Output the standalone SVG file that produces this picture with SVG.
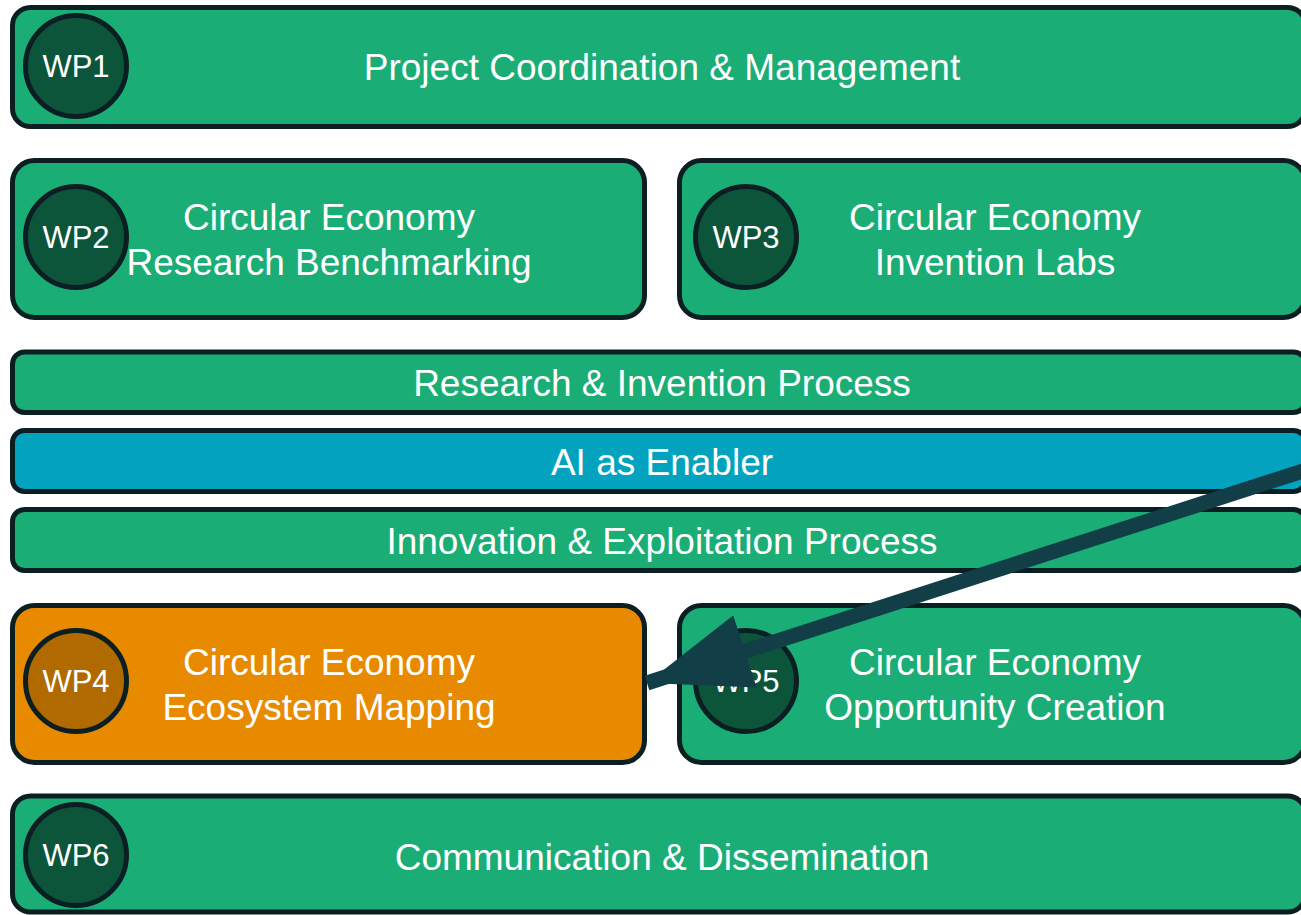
<svg xmlns="http://www.w3.org/2000/svg" width="1301" height="915" viewBox="0 0 1301 915">
<style>
.box{fill:#1aad76;stroke:#0b1f22;stroke-width:5}
.orange{fill:#e88a00}
.blue{fill:#03a3c0}
.wp{fill:#0c553a;stroke:#0b1f22;stroke-width:5}
.wp4{fill:#b06a00}
.t{font-family:"Liberation Sans",Arial,sans-serif;font-size:37px;fill:#fff;text-anchor:middle}
.l{font-family:"Liberation Sans",Arial,sans-serif;font-size:31px;fill:#fff;text-anchor:middle}
.conn{stroke:#123f47;stroke-width:15;fill:none}
</style>
<defs>
<marker id="ah" markerUnits="userSpaceOnUse" markerWidth="110" markerHeight="80" viewBox="0 -40 110 80" refX="103" refY="0" orient="auto">
<path d="M0,-38 L103,0 L0,38 z" fill="#123f47"/>
</marker>
</defs>
<rect width="1301" height="915" fill="#fff"/>
<g id="wp1">
<rect class="box" x="12.5" y="7.5" width="1293" height="119" rx="18"/>
<circle class="wp" cx="76" cy="66" r="50.5"/>
<text class="l" x="76" y="77">WP1</text>
<text class="t" x="662" y="80">Project Coordination &amp; Management</text>
</g>
<g id="wp2">
<rect class="box" x="12.5" y="160.5" width="632" height="157" rx="22"/>
<circle class="wp" cx="76" cy="237" r="50.5"/>
<text class="l" x="76" y="248">WP2</text>
<text class="t" x="329" y="230">Circular Economy</text>
<text class="t" x="329" y="275">Research Benchmarking</text>
</g>
<g id="wp3">
<rect class="box" x="679.5" y="160.5" width="626" height="157" rx="22"/>
<circle class="wp" cx="746" cy="237" r="50.5"/>
<text class="l" x="746" y="248">WP3</text>
<text class="t" x="995" y="230">Circular Economy</text>
<text class="t" x="995" y="275">Invention Labs</text>
</g>
<g id="research">
<rect class="box" x="12.5" y="352" width="1293" height="60.5" rx="12"/>
<text class="t" x="662" y="396">Research &amp; Invention Process</text>
</g>
<g id="ai">
<rect class="box blue" x="12.5" y="430.5" width="1293" height="61" rx="12"/>
<text class="t" x="662" y="475">AI as Enabler</text>
</g>
<g id="innovation">
<rect class="box" x="12.5" y="509.5" width="1293" height="61" rx="12"/>
<text class="t" x="662" y="554">Innovation &amp; Exploitation Process</text>
</g>
<g id="wp4">
<rect class="box orange" x="12.5" y="605.5" width="632" height="157" rx="22"/>
<circle class="wp wp4" cx="76" cy="681" r="50.5"/>
<text class="l" x="76" y="692">WP4</text>
<text class="t" x="329" y="675">Circular Economy</text>
<text class="t" x="329" y="720">Ecosystem Mapping</text>
</g>
<g id="wp5">
<rect class="box" x="679.5" y="605.5" width="626" height="157" rx="22"/>
<circle class="wp" cx="746" cy="681" r="50.5"/>
<text class="l" x="746" y="692">WP5</text>
<text class="t" x="995" y="675">Circular Economy</text>
<text class="t" x="995" y="720">Opportunity Creation</text>
</g>
<g id="wp6">
<rect class="box" x="12.5" y="796" width="1293" height="116" rx="18"/>
<circle class="wp" cx="76" cy="855" r="50.5"/>
<text class="l" x="76" y="866">WP6</text>
<text class="t" x="662" y="870">Communication &amp; Dissemination</text>
</g>
<g id="connectors">
<path class="conn" d="M1340,459 L647,683" marker-end="url(#ah)"/>
</g>
</svg>
